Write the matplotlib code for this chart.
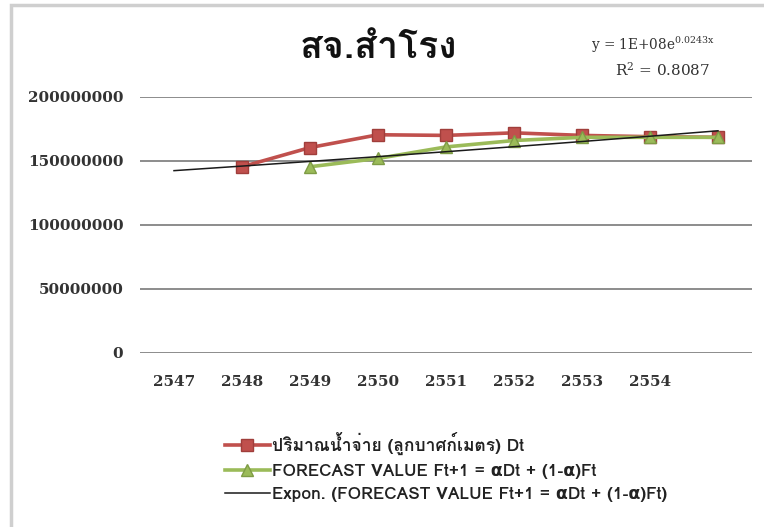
import numpy as np
import matplotlib
matplotlib.use('Agg')
import matplotlib.pyplot as plt
from matplotlib import font_manager
from matplotlib.ft2font import FT2Font
from matplotlib.patches import Rectangle

# data
years = ['2547', '2548', '2549', '2550', '2551', '2552', '2553', '2554', '2555']
tick_labels = ['2547', '2548', '2549', '2550', '2551', '2552', '2553', '2554', '']
dt_years = ['2548', '2549', '2550', '2551', '2552', '2553', '2554', '2555']
dt_values = [145.5e6, 160.5e6, 170.5e6, 170.0e6, 172.0e6, 170.0e6, 169.0e6, 168.5e6]
ft_years = ['2549', '2550', '2551', '2552', '2553', '2554', '2555']
ft_values = [145.5e6, 152.0e6, 161.0e6, 166.0e6, 168.5e6, 168.5e6, 168.5e6]
y_ticks = [0, 50000000, 100000000, 150000000, 200000000]

title = 'สจ.สำโรง'
label_dt = 'ปริมาณน้ำจ่าย (ลูกบาศก์เมตร) Dt'
label_ft = 'FORECAST VALUE Ft+1 = αDt + (1-α)Ft'
label_trend = 'Expon. (FORECAST VALUE Ft+1 = αDt + (1-α)Ft)'


def find_thai_family():
    for fe in font_manager.fontManager.ttflist:
        try:
            if FT2Font(fe.fname).get_char_index(0x0E2A):
                return fe.name
        except Exception:
            pass
    return 'DejaVu Sans'


thai = find_thai_family()
plt.rcParams['font.family'] = [thai, 'DejaVu Sans']
plt.rcParams['mathtext.fontset'] = 'dejavuserif'

W, H = 764, 527
fig = plt.figure(figsize=(W / 100, H / 100), dpi=100)
ax = fig.add_axes([140 / W, 1 - 353 / H, 612 / W, 256 / H])

pos = {y: i for i, y in enumerate(years)}
x_dt = [pos[y] for y in dt_years]
x_ft = [pos[y] for y in ft_years]

ax.plot(x_dt, dt_values, color='#C0504D', lw=2.6, marker='s', ms=9,
        mfc='#C0504D', mec='#A03E3B', label=label_dt, zorder=3)
ax.plot(x_ft, ft_values, color='#9BBB59', lw=2.6, marker='^', ms=8,
        mfc='#9BBB59', mec='#7E9C45', label=label_ft, zorder=4)

# exponential trendline (Excel style, x = category index + 1, one period back)
xi = np.array(x_ft) + 1
b, ln_a = np.polyfit(xi, np.log(ft_values), 1)
x_tr = np.arange(len(years))
ax.plot(x_tr, np.exp(ln_a) * np.exp(b * (x_tr + 1)), color='#1a1a1a', lw=1.1,
        label=label_trend, zorder=5)

ax.set_xlim(-0.5, len(years) - 0.5)
ax.set_ylim(0, 200000000)
ax.set_yticks(y_ticks)
ax.set_yticklabels([str(v) for v in y_ticks])
ax.set_xticks(x_tr)
ax.set_xticklabels(tick_labels)
ax.grid(axis='y', color='#8c8c8c', lw=1.4)
ax.set_axisbelow(True)
for s in ax.spines.values():
    s.set_visible(False)
ax.tick_params(length=0)
ax.tick_params(axis='y', pad=12)
ax.tick_params(axis='x', pad=16)
for t in ax.get_xticklabels() + ax.get_yticklabels():
    t.set_fontfamily('DejaVu Serif')
    t.set_fontweight('bold')
    t.set_fontsize(11)
    t.set_color('#333333')

fig.text(378 / W, 1 - 48 / H, title, ha='center', va='center', fontsize=27,
         fontweight='bold', color='#111111')
fig.text(653 / W, 1 - 45 / H, r'y = 1E+08e$^{\mathregular{0.0243x}}$', ha='center',
         va='center', fontsize=9.8, family='DejaVu Serif', color='#333333')
fig.text(663 / W, 1 - 70 / H, r'R$^{\mathregular{2}}$ = 0.8087', ha='center',
         va='center', fontsize=11, family='DejaVu Serif', color='#333333')

fig.legend(loc='upper left', bbox_to_anchor=(209 / W, 1 - 416 / H), frameon=False,
           prop={'size': 12.5, 'weight': 'semibold'}, handlelength=2.6,
           handletextpad=0.12, labelspacing=0.5, labelcolor='#222222')

# chart frame
fig.patches.append(Rectangle((11 / W, -0.05), 1.1, 1 - 5 / H + 0.05, transform=fig.transFigure,
                             fill=False, ec='#cfcfcf', lw=2.5))

fig.savefig('out.png', dpi=100)
